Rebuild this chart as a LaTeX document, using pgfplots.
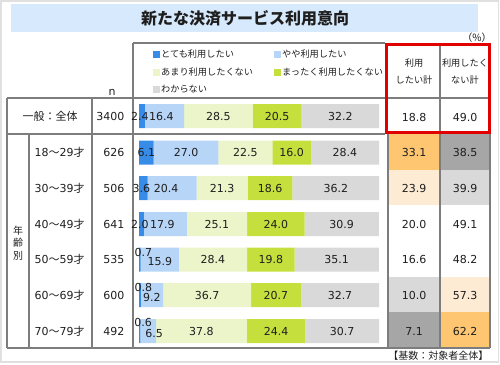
\documentclass[border=0pt]{standalone}
\usepackage{fontspec}
\setmainfont{DejaVu Sans}
\newfontfamily\jp{Noto Sans CJK JP}
\usepackage{pgfplots}
\pgfplotsset{compat=1.18}
\usepackage{pgfplotstable}
\definecolor{cA}{RGB}{55,140,232}
\definecolor{cB}{RGB}{183,213,247}
\definecolor{cC}{RGB}{236,244,202}
\definecolor{cD}{RGB}{197,224,60}
\definecolor{cE}{RGB}{217,217,217}
\definecolor{cOr}{RGB}{255,198,114}
\definecolor{cPe}{RGB}{253,235,211}
\definecolor{cDg}{RGB}{166,166,166}
\definecolor{cLg}{RGB}{217,217,217}
\definecolor{cTitle}{RGB}{215,233,252}
\definecolor{cRed}{RGB}{225,0,0}
\definecolor{cLine}{RGB}{125,125,125}
\definecolor{cTxt}{RGB}{30,30,30}

% y = row position, a..e = shares (%), dx/dy = label offsets (pt)
\pgfplotstableread{
y a b c d e dxa dya dxb dyb
116 2.4 16.4 28.5 20.5 32.2 -2 0 -3 0
152.5 6.1 27.0 22.5 16.0 28.4 0 0 0 0
188 3.6 20.4 21.3 18.6 36.2 -2 0 -6 0
224 2.0 17.9 25.1 24.0 30.9 -1.5 0 -3 0
259.5 0.7 15.9 28.4 19.8 35.1 3.5 7.5 0 -2
295 0.8 9.2 36.7 20.7 32.7 3.5 8 0 -2
331 0.6 6.5 37.8 24.4 30.7 3.5 8.5 6 -2
}\survey

\pgfplotsset{
  sq/.style={legend image code/.code={\fill[##1] (0pt,-3.5pt) rectangle (7pt,3.5pt);}},
  labo/.style={visualization depends on={\thisrow{dx#1} \as \mydx},
               visualization depends on={\thisrow{dy#1} \as \mydy}},
  lab0/.style={visualization depends on={0 \as \mydx},
               visualization depends on={0 \as \mydy}},
}

\begin{document}
\begin{tikzpicture}
\begin{scope}[x=1pt,y=-1pt]
\useasboundingbox (0,0) rectangle (500,364);
\draw[black!12, line width=1.5] (1,1) rectangle (498.5,362);
% title band
\fill[cTitle] (11,4) rectangle (478,32);
\node[text=cTxt, font=\jp\bfseries\fontsize{16}{18}\selectfont] at (245,18) {新たな決済サービス利用意向};
\node[text=cTxt, font=\jp\fontsize{10}{12}\selectfont] at (477,38) {（\%）};
% right cells fills
\fill[cOr] (388,134) rectangle (440,169.67);
\fill[cDg] (440,134) rectangle (490,169.67);
\fill[cPe] (388,169.67) rectangle (440,205.33);
\fill[cLg] (440,169.67) rectangle (490,205.33);
\fill[cLg] (388,276.67) rectangle (440,312.33);
\fill[cPe] (440,276.67) rectangle (490,312.33);
\fill[cDg] (388,312.33) rectangle (440,348);
\fill[cOr] (440,312.33) rectangle (490,348);
% grid lines
\begin{scope}[cLine, line width=1.1]
\draw (133,43) -- (385,43);
\draw (7,98) -- (490,98);
\draw (7,134) -- (385,134);
\draw (7,348) -- (490,348);
\draw (7,98) -- (7,348);
\draw (29,134) -- (29,348);
\draw (92,98) -- (92,348);
\draw (133,43) -- (133,348);
\draw (388,134) -- (388,348);
\draw (440,43) -- (440,348);
\draw (490,43) -- (490,348);
\end{scope}
% header texts
\node[text=cTxt, font=\fontsize{11}{13}\selectfont] at (112,92) {n};
\node[text=cTxt, align=center, font=\jp\fontsize{9.2}{17}\selectfont] at (414,71.5) {利用\\したい計};
\node[text=cTxt, align=center, font=\jp\fontsize{9.2}{17}\selectfont] at (465,71.5) {利用したく\\ない計};
% row labels
\begin{scope}[every node/.style={text=cTxt, font=\fontsize{11}{13}\selectfont}]
\node at (50,116) {\jp 一般：全体};
\node[align=center, font=\jp\fontsize{10}{12.5}\selectfont] at (18,243) {年\\齢\\別};
\node[anchor=west] at (31,152.5) {18{\jp ～}29{\jp 才}};
\node[anchor=west] at (31,188) {30{\jp ～}39{\jp 才}};
\node[anchor=west] at (31,224) {40{\jp ～}49{\jp 才}};
\node[anchor=west] at (31,259.5) {50{\jp ～}59{\jp 才}};
\node[anchor=west] at (31,295) {60{\jp ～}69{\jp 才}};
\node[anchor=west] at (31,331) {70{\jp ～}79{\jp 才}};
\node[anchor=east] at (128,116) {3400};
\node[anchor=east] at (128,152.5) {626};
\node[anchor=east] at (128,188) {506};
\node[anchor=east] at (128,224) {641};
\node[anchor=east] at (128,259.5) {535};
\node[anchor=east] at (128,295) {600};
\node[anchor=east] at (128,331) {492};
% totals
\node at (414,117) {18.8}; \node at (465,117) {49.0};
\node at (414,152.5) {33.1}; \node at (465,152.5) {38.5};
\node at (414,188) {23.9}; \node at (465,188) {39.9};
\node at (414,224) {20.0}; \node at (465,224) {49.1};
\node at (414,259.5) {16.6}; \node at (465,259.5) {48.2};
\node at (414,295) {10.0}; \node at (465,295) {57.3};
\node at (414,331) {7.1}; \node at (465,331) {62.2};
\end{scope}
\node[anchor=east, text=cTxt, font=\jp\fontsize{10}{12}\selectfont] at (492,356) {【基数：対象者全体】};
\end{scope}

\begin{axis}[
  at={(139pt,0pt)}, anchor=north west,
  scale only axis, width=240pt, height=364pt,
  xmin=0, xmax=100, ymin=0, ymax=364, y dir=reverse,
  hide axis, clip=false,
  xbar stacked, bar width=24pt,
  point meta=explicit,
  /pgf/number format/assume math mode=true,
  nodes near coords={\pgfmathprintnumber[fixed,fixed zerofill,precision=1]{\pgfplotspointmeta}},
  every node near coord/.append style={anchor=center, inner sep=0pt, text=cTxt,
    font=\fontsize{11}{13}\selectfont,
    xshift={\mydx*1pt}, yshift={\mydy*1pt}},
  legend columns=2,
  legend cell align=left,
  legend style={at={(0.058,0.866)}, anchor=north west, draw=none, fill=none, inner sep=0pt,
    font=\jp\fontsize{9.2}{11}\selectfont, text=cTxt,
    nodes={inner sep=1pt}, row sep=6.5pt,
    /tikz/every even column/.append style={column sep=20pt}},
]
\addplot[fill=cA, draw=none, sq, labo=a] table[x=a, y=y, meta=a]{\survey};
\addlegendentry{とても利用したい}
\addplot[fill=cB, draw=none, sq, labo=b] table[x=b, y=y, meta=b]{\survey};
\addlegendentry{やや利用したい}
\addplot[fill=cC, draw=none, sq, lab0] table[x=c, y=y, meta=c]{\survey};
\addlegendentry{あまり利用したくない}
\addplot[fill=cD, draw=none, sq, lab0] table[x=d, y=y, meta=d]{\survey};
\addlegendentry{まったく利用したくない}
\addplot[fill=cE, draw=none, sq, lab0] table[x=e, y=y, meta=e]{\survey};
\addlegendentry{わからない}
\end{axis}

\begin{scope}[x=1pt,y=-1pt]
\draw[cRed, line width=3.2] (386.5,44.8) rectangle (489.5,132.5);
\end{scope}
\end{tikzpicture}
\end{document}
